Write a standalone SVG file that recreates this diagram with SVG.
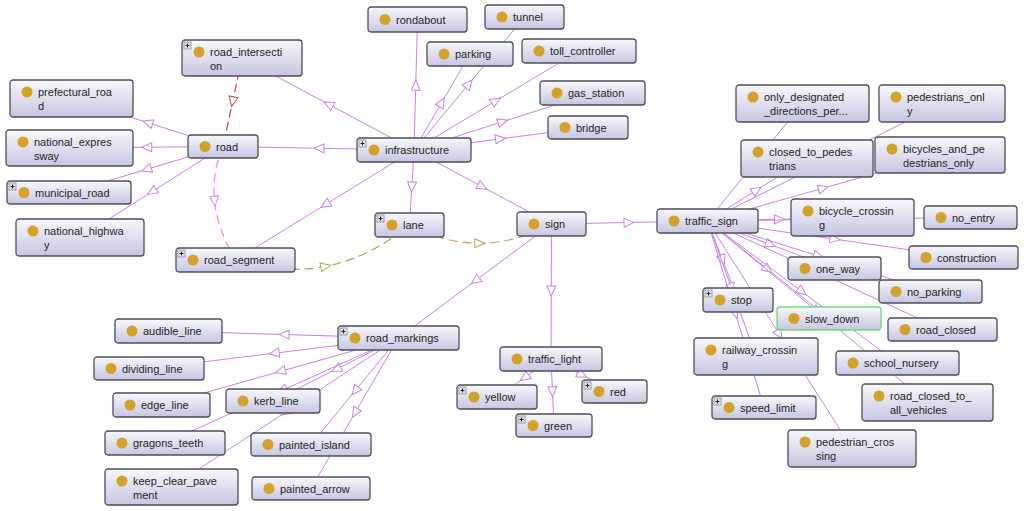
<svg xmlns="http://www.w3.org/2000/svg" xmlns:xlink="http://www.w3.org/1999/xlink" width="1024" height="511" viewBox="0 0 1024 511">
<style>
.box{fill:url(#g);stroke:#4e4e5a;stroke-width:1.3}
.sel{fill:url(#g);stroke:#6ee06e;stroke-width:1.4}
.dot{fill:#d4a12a}
.lbl{font-family:"Liberation Sans",Arial,sans-serif;font-size:11px;fill:#1e1e1e}
.isa{fill:none;stroke:#cc80e6;stroke-width:1;marker-mid:url(#ap)}
.dr{fill:none;stroke:#c84646;stroke-width:1.2;stroke-dasharray:9 4;marker-mid:url(#ar)}
.dp{fill:none;stroke:#e08ee8;stroke-width:1.2;stroke-dasharray:9 5;marker-mid:url(#ak)}
.do{fill:none;stroke:#a8aa48;stroke-width:1.2;stroke-dasharray:9 5;marker-mid:url(#ao)}
.dt{fill:none;stroke:#c8a050;stroke-width:1.2;stroke-dasharray:9 5;marker-mid:url(#at)}
</style>
<defs>
<linearGradient id="g" x1="0" y1="0" x2="0" y2="1">
<stop offset="0" stop-color="#f8f8fc"/>
<stop offset="1" stop-color="#c6c6e2"/>
</linearGradient>
<marker id="ap" markerUnits="userSpaceOnUse" markerWidth="14" markerHeight="12" refX="6" refY="5" orient="auto" overflow="visible"><path d="M0.5,0.5 L10.5,5 L0.5,9.5 Z" fill="#fff" stroke="#cc80e6" stroke-width="1"/></marker>
<marker id="ar" markerUnits="userSpaceOnUse" markerWidth="14" markerHeight="12" refX="6" refY="5" orient="auto" overflow="visible"><path d="M0.5,0.5 L10.5,5 L0.5,9.5 Z" fill="#fff" stroke="#c84646" stroke-width="1"/></marker>
<marker id="ak" markerUnits="userSpaceOnUse" markerWidth="14" markerHeight="12" refX="6" refY="5" orient="auto" overflow="visible"><path d="M0.5,0.5 L10.5,5 L0.5,9.5 Z" fill="#fff" stroke="#e08ee8" stroke-width="1"/></marker>
<marker id="ao" markerUnits="userSpaceOnUse" markerWidth="14" markerHeight="12" refX="6" refY="5" orient="auto" overflow="visible"><path d="M0.5,0.5 L10.5,5 L0.5,9.5 Z" fill="#fff" stroke="#a8aa48" stroke-width="1"/></marker>
<marker id="at" markerUnits="userSpaceOnUse" markerWidth="14" markerHeight="12" refX="6" refY="5" orient="auto" overflow="visible"><path d="M0.5,0.5 L10.5,5 L0.5,9.5 Z" fill="#fff" stroke="#c8a050" stroke-width="1"/></marker>
<g id="plus"><rect x="0.5" y="0.5" width="7" height="7" fill="#dfe6ef" stroke="#8a8f9a" stroke-width="0.8"/><path d="M2,4 H6 M4,2 V6" stroke="#222" stroke-width="1.1"/></g>
</defs>
<rect width="1024" height="511" fill="#fff"/>
<g id="connectors">
<path class="isa" d="M414,150 L318.5,148.25 L223,146.5"/>
<path class="isa" d="M414,150 L328,104 L242,58"/>
<path class="isa" d="M414,150 L324.75,205 L235.5,260"/>
<path class="isa" d="M414,150 L415.75,84.75 L417.5,19.5"/>
<path class="isa" d="M414,150 L442,102 L470,54"/>
<path class="isa" d="M414,150 L469.25,83.5 L524.5,17"/>
<path class="isa" d="M414,150 L496.5,100.5 L579,51"/>
<path class="isa" d="M414,150 L503.25,121.5 L592.5,93"/>
<path class="isa" d="M414,150 L501,138.75 L588,127.5"/>
<path class="isa" d="M414,150 L411.75,187.5 L409.5,225"/>
<path class="isa" d="M414,150 L482.75,187 L551.5,224"/>
<path class="isa" d="M223,146.5 L147.25,122.5 L71.5,98.5"/>
<path class="isa" d="M223,146.5 L146.25,147.25 L69.5,148"/>
<path class="isa" d="M223,146.5 L146,169.5 L69,192.5"/>
<path class="isa" d="M223,146.5 L151.5,192 L80,237.5"/>
<path class="isa" d="M551.5,224 L629.5,222.5 L707.5,221"/>
<path class="isa" d="M551.5,224 L551.25,291.5 L551,359"/>
<path class="isa" d="M551.5,224 L475,281 L398.5,338"/>
<path class="isa" d="M398.5,338 L283.5,334.5 L168.5,331"/>
<path class="isa" d="M398.5,338 L273.75,353.25 L149,368.5"/>
<path class="isa" d="M398.5,338 L280,371.5 L161.5,405"/>
<path class="isa" d="M398.5,338 L335.75,369.5 L273,401"/>
<path class="isa" d="M398.5,338 L281.75,390.5 L165,443"/>
<path class="isa" d="M398.5,338 L285,412.5 L171.5,487"/>
<path class="isa" d="M398.5,338 L354.75,391.25 L311,444.5"/>
<path class="isa" d="M398.5,338 L354.75,413.25 L311,488.5"/>
<path class="isa" d="M551,359 L524,378 L497,397"/>
<path class="isa" d="M551,359 L582.75,375.25 L614.5,391.5"/>
<path class="isa" d="M551,359 L552.5,392.25 L554,425.5"/>
<path class="isa" d="M707.5,221 L755,162.25 L802.5,103.5"/>
<path class="isa" d="M707.5,221 L824.75,162.25 L942,103.5"/>
<path class="isa" d="M707.5,221 L757.25,189.75 L807,158.5"/>
<path class="isa" d="M707.5,221 L823.75,188 L940,155"/>
<path class="isa" d="M707.5,221 L780,219.25 L852.5,217.5"/>
<path class="isa" d="M707.5,221 L839,219.25 L970.5,217.5"/>
<path class="isa" d="M707.5,221 L835.5,239.25 L963.5,257.5"/>
<path class="isa" d="M707.5,221 L771,244.75 L834.5,268.5"/>
<path class="isa" d="M707.5,221 L819,256.25 L930.5,291.5"/>
<path class="isa" d="M707.5,221 L722.75,260.5 L738,300"/>
<path class="isa" d="M707.5,221 L768.25,269.75 L829,318.5"/>
<path class="isa" d="M707.5,221 L825,275.25 L942.5,329.5"/>
<path class="isa" d="M707.5,221 L731.75,288.75 L756,356.5"/>
<path class="isa" d="M707.5,221 L802.5,292 L897.5,363"/>
<path class="isa" d="M707.5,221 L817.5,311.75 L927.5,402.5"/>
<path class="isa" d="M707.5,221 L735.75,314.25 L764,407.5"/>
<path class="isa" d="M707.5,221 L779.75,334.75 L852,448.5"/>
<path class="dr" d="M242,58 L232.5,102.25 L223,146.5"/>
<path class="dp" d="M223,146.5 Q211.5,173.25 214.6,201.6 Q217.75,230 235.5,260"/>
<path class="do" d="M235.5,260 Q282.75,275 326.25,266.25 Q369.75,257.5 409.5,225"/>
<path class="dt" d="M409.5,225 Q444.75,243.5 480.25,243.25 Q515.75,243 551.5,224"/>
</g>
<g id="n-road_intersection" transform="translate(182,40)"><rect class="box" width="120" height="36" rx="3"/><use href="#plus" x="1.5" y="1.5"/><circle class="dot" cx="17" cy="12" r="5.5"/><text class="lbl" x="28" y="16">road_intersecti</text><text class="lbl" x="28" y="30">on</text></g>
<g id="n-prefectural_road" transform="translate(10,80)"><rect class="box" width="123" height="37" rx="3"/><circle class="dot" cx="17" cy="12" r="5.5"/><text class="lbl" x="28" y="16">prefectural_roa</text><text class="lbl" x="28" y="30">d</text></g>
<g id="n-national_expressway" transform="translate(6,130)"><rect class="box" width="127" height="36" rx="3"/><circle class="dot" cx="17" cy="12" r="5.5"/><text class="lbl" x="28" y="16">national_expres</text><text class="lbl" x="28" y="30">sway</text></g>
<g id="n-municipal_road" transform="translate(7,181)"><rect class="box" width="124" height="23" rx="3"/><use href="#plus" x="1.5" y="1.5"/><circle class="dot" cx="17" cy="11.5" r="5.5"/><text class="lbl" x="28" y="15.5">municipal_road</text></g>
<g id="n-national_highway" transform="translate(16,219)"><rect class="box" width="128" height="37" rx="3"/><circle class="dot" cx="17" cy="12" r="5.5"/><text class="lbl" x="28" y="16">national_highwa</text><text class="lbl" x="28" y="30">y</text></g>
<g id="n-road" transform="translate(188,135)"><rect class="box" width="70" height="23" rx="3"/><circle class="dot" cx="17" cy="11.5" r="5.5"/><text class="lbl" x="28" y="15.5">road</text></g>
<g id="n-road_segment" transform="translate(176,248)"><rect class="box" width="119" height="24" rx="3"/><use href="#plus" x="1.5" y="1.5"/><circle class="dot" cx="17" cy="12" r="5.5"/><text class="lbl" x="28" y="16">road_segment</text></g>
<g id="n-rondabout" transform="translate(368,7)"><rect class="box" width="99" height="25" rx="3"/><circle class="dot" cx="17" cy="12.5" r="5.5"/><text class="lbl" x="28" y="16.5">rondabout</text></g>
<g id="n-tunnel" transform="translate(485,5)"><rect class="box" width="79" height="24" rx="3"/><circle class="dot" cx="17" cy="12" r="5.5"/><text class="lbl" x="28" y="16">tunnel</text></g>
<g id="n-parking" transform="translate(427,42)"><rect class="box" width="86" height="24" rx="3"/><circle class="dot" cx="17" cy="12" r="5.5"/><text class="lbl" x="28" y="16">parking</text></g>
<g id="n-toll_controller" transform="translate(522,39)"><rect class="box" width="114" height="24" rx="3"/><circle class="dot" cx="17" cy="12" r="5.5"/><text class="lbl" x="28" y="16">toll_controller</text></g>
<g id="n-gas_station" transform="translate(540,81)"><rect class="box" width="105" height="24" rx="3"/><circle class="dot" cx="17" cy="12" r="5.5"/><text class="lbl" x="28" y="16">gas_station</text></g>
<g id="n-bridge" transform="translate(548,116)"><rect class="box" width="80" height="23" rx="3"/><circle class="dot" cx="17" cy="11.5" r="5.5"/><text class="lbl" x="28" y="15.5">bridge</text></g>
<g id="n-infrastructure" transform="translate(357,138)"><rect class="box" width="114" height="24" rx="3"/><use href="#plus" x="1.5" y="1.5"/><circle class="dot" cx="17" cy="12" r="5.5"/><text class="lbl" x="28" y="16">infrastructure</text></g>
<g id="n-lane" transform="translate(375,213)"><rect class="box" width="69" height="24" rx="3"/><use href="#plus" x="1.5" y="1.5"/><circle class="dot" cx="17" cy="12" r="5.5"/><text class="lbl" x="28" y="16">lane</text></g>
<g id="n-sign" transform="translate(517,212)"><rect class="box" width="69" height="24" rx="3"/><circle class="dot" cx="17" cy="12" r="5.5"/><text class="lbl" x="28" y="16">sign</text></g>
<g id="n-traffic_sign" transform="translate(657,209)"><rect class="box" width="101" height="24" rx="3"/><circle class="dot" cx="17" cy="12" r="5.5"/><text class="lbl" x="28" y="16">traffic_sign</text></g>
<g id="n-only_designated_directions" transform="translate(736,85)"><rect class="box" width="133" height="37" rx="3"/><circle class="dot" cx="17" cy="12" r="5.5"/><text class="lbl" x="28" y="16">only_designated</text><text class="lbl" x="28" y="30">_directions_per...</text></g>
<g id="n-pedestrians_only" transform="translate(879,85)"><rect class="box" width="126" height="37" rx="3"/><circle class="dot" cx="17" cy="12" r="5.5"/><text class="lbl" x="28" y="16">pedestrians_onl</text><text class="lbl" x="28" y="30">y</text></g>
<g id="n-closed_to_pedestrians" transform="translate(741,140)"><rect class="box" width="132" height="37" rx="3"/><circle class="dot" cx="17" cy="12" r="5.5"/><text class="lbl" x="28" y="16">closed_to_pedes</text><text class="lbl" x="28" y="30">trians</text></g>
<g id="n-bicycles_and_pedestrians_only" transform="translate(875,137)"><rect class="box" width="130" height="36" rx="3"/><circle class="dot" cx="17" cy="12" r="5.5"/><text class="lbl" x="28" y="16">bicycles_and_pe</text><text class="lbl" x="28" y="30">destrians_only</text></g>
<g id="n-bicycle_crossing" transform="translate(791,199)"><rect class="box" width="123" height="37" rx="3"/><circle class="dot" cx="17" cy="12" r="5.5"/><text class="lbl" x="28" y="16">bicycle_crossin</text><text class="lbl" x="28" y="30">g</text></g>
<g id="n-no_entry" transform="translate(924,206)"><rect class="box" width="93" height="23" rx="3"/><circle class="dot" cx="17" cy="11.5" r="5.5"/><text class="lbl" x="28" y="15.5">no_entry</text></g>
<g id="n-construction" transform="translate(909,246)"><rect class="box" width="109" height="23" rx="3"/><circle class="dot" cx="17" cy="11.5" r="5.5"/><text class="lbl" x="28" y="15.5">construction</text></g>
<g id="n-one_way" transform="translate(788,257)"><rect class="box" width="93" height="23" rx="3"/><circle class="dot" cx="17" cy="11.5" r="5.5"/><text class="lbl" x="28" y="15.5">one_way</text></g>
<g id="n-no_parking" transform="translate(879,280)"><rect class="box" width="103" height="23" rx="3"/><circle class="dot" cx="17" cy="11.5" r="5.5"/><text class="lbl" x="28" y="15.5">no_parking</text></g>
<g id="n-stop" transform="translate(703,288)"><rect class="box" width="70" height="24" rx="3"/><use href="#plus" x="1.5" y="1.5"/><circle class="dot" cx="17" cy="12" r="5.5"/><text class="lbl" x="28" y="16">stop</text></g>
<g id="n-slow_down" transform="translate(777,307)"><rect class="sel" width="104" height="23" rx="3"/><circle class="dot" cx="17" cy="11.5" r="5.5"/><text class="lbl" x="28" y="15.5">slow_down</text></g>
<g id="n-road_closed" transform="translate(888,318)"><rect class="box" width="109" height="23" rx="3"/><circle class="dot" cx="17" cy="11.5" r="5.5"/><text class="lbl" x="28" y="15.5">road_closed</text></g>
<g id="n-railway_crossing" transform="translate(694,338)"><rect class="box" width="124" height="37" rx="3"/><circle class="dot" cx="17" cy="12" r="5.5"/><text class="lbl" x="28" y="16">railway_crossin</text><text class="lbl" x="28" y="30">g</text></g>
<g id="n-school_nursery" transform="translate(836,351)"><rect class="box" width="123" height="24" rx="3"/><circle class="dot" cx="17" cy="12" r="5.5"/><text class="lbl" x="28" y="16">school_nursery</text></g>
<g id="n-road_closed_to_all_vehicles" transform="translate(862,384)"><rect class="box" width="131" height="37" rx="3"/><circle class="dot" cx="17" cy="12" r="5.5"/><text class="lbl" x="28" y="16">road_closed_to_</text><text class="lbl" x="28" y="30">all_vehicles</text></g>
<g id="n-speed_limit" transform="translate(712,396)"><rect class="box" width="104" height="23" rx="3"/><use href="#plus" x="1.5" y="1.5"/><circle class="dot" cx="17" cy="11.5" r="5.5"/><text class="lbl" x="28" y="15.5">speed_limit</text></g>
<g id="n-pedestrian_crossing" transform="translate(788,430)"><rect class="box" width="128" height="37" rx="3"/><circle class="dot" cx="17" cy="12" r="5.5"/><text class="lbl" x="28" y="16">pedestrian_cros</text><text class="lbl" x="28" y="30">sing</text></g>
<g id="n-audible_line" transform="translate(115,319)"><rect class="box" width="107" height="24" rx="3"/><circle class="dot" cx="17" cy="12" r="5.5"/><text class="lbl" x="28" y="16">audible_line</text></g>
<g id="n-road_markings" transform="translate(338,326)"><rect class="box" width="121" height="24" rx="3"/><use href="#plus" x="1.5" y="1.5"/><circle class="dot" cx="17" cy="12" r="5.5"/><text class="lbl" x="28" y="16">road_markings</text></g>
<g id="n-dividing_line" transform="translate(94,357)"><rect class="box" width="110" height="23" rx="3"/><circle class="dot" cx="17" cy="11.5" r="5.5"/><text class="lbl" x="28" y="15.5">dividing_line</text></g>
<g id="n-edge_line" transform="translate(113,393)"><rect class="box" width="97" height="24" rx="3"/><circle class="dot" cx="17" cy="12" r="5.5"/><text class="lbl" x="28" y="16">edge_line</text></g>
<g id="n-kerb_line" transform="translate(226,389)"><rect class="box" width="94" height="24" rx="3"/><circle class="dot" cx="17" cy="12" r="5.5"/><text class="lbl" x="28" y="16">kerb_line</text></g>
<g id="n-gragons_teeth" transform="translate(105,431)"><rect class="box" width="120" height="24" rx="3"/><circle class="dot" cx="17" cy="12" r="5.5"/><text class="lbl" x="28" y="16">gragons_teeth</text></g>
<g id="n-painted_island" transform="translate(251,433)"><rect class="box" width="120" height="23" rx="3"/><circle class="dot" cx="17" cy="11.5" r="5.5"/><text class="lbl" x="28" y="15.5">painted_island</text></g>
<g id="n-keep_clear_pavement" transform="translate(105,469)"><rect class="box" width="133" height="36" rx="3"/><circle class="dot" cx="17" cy="12" r="5.5"/><text class="lbl" x="28" y="16">keep_clear_pave</text><text class="lbl" x="28" y="30">ment</text></g>
<g id="n-painted_arrow" transform="translate(252,477)"><rect class="box" width="118" height="23" rx="3"/><circle class="dot" cx="17" cy="11.5" r="5.5"/><text class="lbl" x="28" y="15.5">painted_arrow</text></g>
<g id="n-traffic_light" transform="translate(500,347)"><rect class="box" width="102" height="24" rx="3"/><circle class="dot" cx="17" cy="12" r="5.5"/><text class="lbl" x="28" y="16">traffic_light</text></g>
<g id="n-yellow" transform="translate(457,385)"><rect class="box" width="80" height="24" rx="3"/><use href="#plus" x="1.5" y="1.5"/><circle class="dot" cx="17" cy="12" r="5.5"/><text class="lbl" x="28" y="16">yellow</text></g>
<g id="n-red" transform="translate(582,380)"><rect class="box" width="65" height="23" rx="3"/><use href="#plus" x="1.5" y="1.5"/><circle class="dot" cx="17" cy="11.5" r="5.5"/><text class="lbl" x="28" y="15.5">red</text></g>
<g id="n-green" transform="translate(516,414)"><rect class="box" width="76" height="23" rx="3"/><use href="#plus" x="1.5" y="1.5"/><circle class="dot" cx="17" cy="11.5" r="5.5"/><text class="lbl" x="28" y="15.5">green</text></g>
</svg>
